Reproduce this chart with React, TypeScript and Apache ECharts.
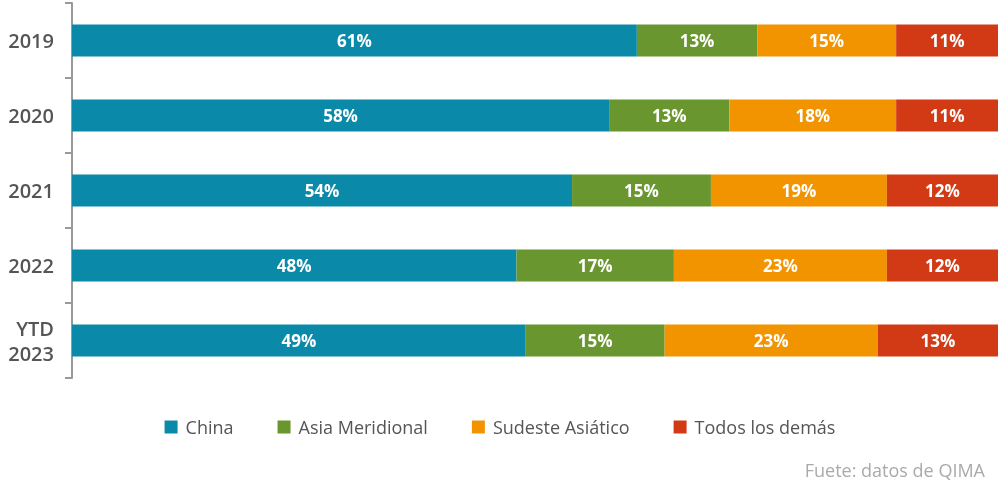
import React, { useEffect, useRef } from "react";
import * as echarts from "echarts";

const years = ["2019", "2020", "2021", "2022", "YTD\n2023"];
const seriesNames = ["China", "Asia Meridional", "Sudeste Asiático", "Todos los demás"];
const china = [61, 58, 54, 48, 49];
const asiaMeridional = [13, 13, 15, 17, 15];
const sudesteAsiatico = [15, 18, 19, 23, 23];
const otros = [11, 11, 12, 12, 13];
const colors = ["#0a8aa8", "#6a962f", "#f29400", "#d23a16"];
const sourceNote = "Fuete: datos de QIMA";

const FONT = "'Open Sans', 'Noto Sans', sans-serif";

export default function App() {
  const ref = useRef<HTMLDivElement>(null);

  useEffect(() => {
    if (!ref.current) return;
    const chart = echarts.init(ref.current, undefined, { renderer: "svg" });
    const values = [china, asiaMeridional, sudesteAsiatico, otros];
    chart.setOption({
      animation: false,
      textStyle: { fontFamily: FONT },
      grid: { left: 72, right: 2, top: 3, bottom: 105, containLabel: false },
      legend: {
        data: seriesNames,
        left: "center",
        top: 413,
        itemWidth: 13,
        itemHeight: 13,
        itemGap: 44,
        icon: "rect",
        textStyle: { fontSize: 18, color: "#555", fontFamily: FONT, padding: [0, 0, 0, 3] },
      },
      xAxis: {
        type: "value",
        min: 0,
        max: 100,
        show: false,
      },
      yAxis: {
        type: "category",
        data: years,
        inverse: true,
        axisLine: { show: true, lineStyle: { color: "#999", width: 2 } },
        axisTick: { show: true, length: 7, lineStyle: { color: "#999", width: 2 } },
        axisLabel: {
          fontSize: 20,
          color: "#555",
          fontWeight: 600,
          margin: 18,
          lineHeight: 25,
          fontFamily: FONT,
        },
      },
      graphic: [
        {
          type: "text",
          right: 15,
          top: 461,
          style: { text: sourceNote, fontSize: 18, fill: "#aaa", fontFamily: FONT },
        },
      ],
      series: seriesNames.map((name, i) => ({
        name,
        type: "bar",
        stack: "total",
        barWidth: 32,
        data: values[i],
        itemStyle: { color: colors[i] },
        label: {
          show: true,
          position: "inside",
          formatter: "{c}%",
          color: "#fff",
          fontSize: 17,
          fontWeight: "bold",
          fontFamily: FONT,
        },
      })),
    });
    return () => chart.dispose();
  }, []);

  return (
    <div
      ref={ref}
      style={{ position: "fixed", left: 0, top: 0, width: 1000, height: 483 }}
    />
  );
}
